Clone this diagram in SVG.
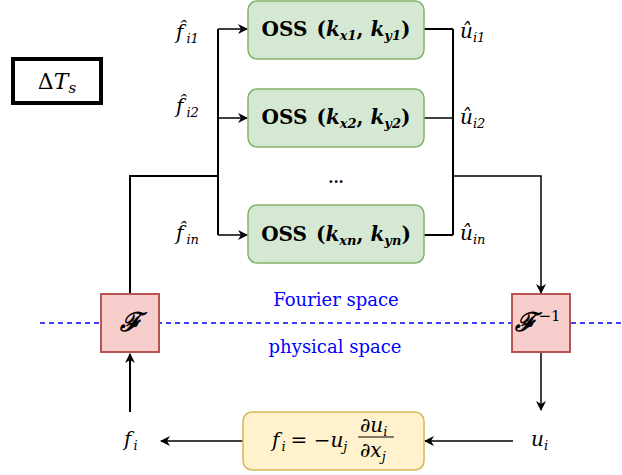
<svg xmlns="http://www.w3.org/2000/svg" width="622" height="475" viewBox="0 0 622 475">
<style>
.m{font-family:'DejaVu Serif','Liberation Serif',serif;font-style:italic;fill:#000}
.r{font-family:'DejaVu Serif','Liberation Serif',serif;fill:#000}
.oss{font-family:'DejaVu Serif','Liberation Serif',serif;font-weight:bold;font-size:20px;fill:#000}
.bi{font-style:italic}
.g{fill:#d5e8d4;stroke:#82b366;stroke-width:1.5}
.red{fill:#f8cecc;stroke:#b85450;stroke-width:2}
.y{fill:#fff2cc;stroke:#d6b656;stroke-width:1.5}
.ln{fill:none;stroke:#000;stroke-width:2}
.ln1{fill:none;stroke:#000;stroke-width:1.5}
.blue{font-family:'DejaVu Serif','Liberation Serif',serif;font-size:18px;fill:#0000ff}
</style>
<defs>
<marker id="ah" markerWidth="10" markerHeight="10" refX="9" refY="5" orient="auto" markerUnits="userSpaceOnUse">
<path d="M0,0 L10,5 L0,10 L3,5 z" fill="#000"/>
</marker>
</defs>
<rect width="622" height="475" fill="#fff"/>

<g id="dT">
<rect x="13" y="59" width="88" height="44" fill="#fff" stroke="#000" stroke-width="4"/>
<text class="m" x="57" y="89" font-size="22" text-anchor="middle"><tspan font-style="normal">Δ</tspan>T<tspan font-size="15" dy="4">s</tspan></text>
</g>

<line x1="40" y1="323" x2="622" y2="323" stroke="#0000ff" stroke-width="1.5" stroke-dasharray="5,4"/>
<text class="blue" x="336" y="306" text-anchor="middle">Fourier space</text>
<text class="blue" x="335" y="353" text-anchor="middle">physical space</text>

<g id="connectors">
<polyline class="ln" points="130,293 130,176 218,176"/>
<line class="ln" x1="218" y1="29" x2="218" y2="235"/>
<line class="ln1" x1="218" y1="29" x2="247" y2="29" marker-end="url(#ah)"/>
<line class="ln1" x1="218" y1="118" x2="247" y2="118" marker-end="url(#ah)"/>
<line class="ln1" x1="218" y1="235" x2="247" y2="235" marker-end="url(#ah)"/>
<line class="ln" x1="424" y1="29" x2="453" y2="29"/>
<line class="ln1" x1="424" y1="118" x2="453" y2="118"/>
<line class="ln" x1="424" y1="235" x2="453" y2="235"/>
<line class="ln" x1="453" y1="29" x2="453" y2="235"/>
<polyline class="ln1" points="453,176 541,176 541,293" marker-end="url(#ah)"/>
<line class="ln1" x1="541" y1="353" x2="541" y2="410" marker-end="url(#ah)"/>
<line class="ln1" x1="513" y1="441" x2="425" y2="441" marker-end="url(#ah)"/>
<line class="ln1" x1="243" y1="441" x2="161" y2="441" marker-end="url(#ah)"/>
<line class="ln" x1="130" y1="412" x2="130" y2="354" marker-end="url(#ah)"/>
</g>

<g id="oss1">
<rect class="g" x="248" y="1" width="176" height="58" rx="9"/>
<text class="oss" x="336" y="36" text-anchor="middle">OSS<tspan dx="9">(</tspan><tspan class="bi">k</tspan><tspan class="bi" font-size="13" dy="4">x1</tspan><tspan dy="-4">, </tspan><tspan class="bi">k</tspan><tspan class="bi" font-size="13" dy="4">y1</tspan><tspan dy="-4">)</tspan></text>
</g>
<g id="oss2">
<rect class="g" x="248" y="89" width="176" height="58" rx="9"/>
<text class="oss" x="336" y="124" text-anchor="middle">OSS<tspan dx="9">(</tspan><tspan class="bi">k</tspan><tspan class="bi" font-size="13" dy="4">x2</tspan><tspan dy="-4">, </tspan><tspan class="bi">k</tspan><tspan class="bi" font-size="13" dy="4">y2</tspan><tspan dy="-4">)</tspan></text>
</g>
<g id="dots">
<text class="r" x="336" y="183" font-size="15" text-anchor="middle" font-weight="bold">...</text>
</g>
<g id="ossn">
<rect class="g" x="248" y="205" width="176" height="58" rx="9"/>
<text class="oss" x="336" y="241" text-anchor="middle">OSS<tspan dx="9">(</tspan><tspan class="bi">k</tspan><tspan class="bi" font-size="13" dy="4">xn</tspan><tspan dy="-4">, </tspan><tspan class="bi">k</tspan><tspan class="bi" font-size="13" dy="4">yn</tspan><tspan dy="-4">)</tspan></text>
</g>

<g id="labels-f">
<text class="m" x="176" y="39" font-size="20">f̂<tspan font-size="13" dx="3" dy="4">i1</tspan></text>
<text class="m" x="176" y="113" font-size="20">f̂<tspan font-size="13" dx="3" dy="4">i2</tspan></text>
<text class="m" x="176" y="240" font-size="20">f̂<tspan font-size="13" dx="3" dy="4">in</tspan></text>
</g>
<g id="labels-u">
<text class="m" x="460" y="38" font-size="20">û<tspan font-size="13" dy="4">i1</tspan></text>
<text class="m" x="460" y="124" font-size="20">û<tspan font-size="13" dy="4">i2</tspan></text>
<text class="m" x="460" y="240" font-size="20">û<tspan font-size="13" dy="4">in</tspan></text>
</g>

<g id="F">
<rect class="red" x="101" y="294" width="58" height="58"/>
<text class="m" x="130" y="331" font-size="26" font-weight="bold" text-anchor="middle">ℱ</text>
</g>
<g id="Finv">
<rect class="red" x="512" y="294" width="58" height="58"/>
<text class="m" x="538" y="331" font-size="26" font-weight="bold" text-anchor="middle">ℱ<tspan font-size="15" font-weight="normal" font-style="normal" dx="2" dy="-10">−1</tspan></text>
</g>

<g id="fi">
<text class="m" x="124" y="446" font-size="20">f<tspan font-size="13" dx="2" dy="4">i</tspan></text>
</g>
<g id="ui">
<text class="m" x="531" y="446" font-size="20">u<tspan font-size="13" dy="4">i</tspan></text>
</g>

<g id="eq">
<rect class="y" x="243" y="412" width="181" height="58" rx="9"/>
<text class="m" x="272" y="447" font-size="20">f<tspan font-size="13" dx="2" dy="4">i</tspan><tspan font-style="normal" dx="5" dy="-4">= −</tspan><tspan>u</tspan><tspan font-size="13" dy="4">j</tspan></text>
<text class="m" x="360" y="432" font-size="20"><tspan font-style="normal">∂</tspan>u<tspan font-size="13" dy="4">i</tspan></text>
<line x1="358" y1="437" x2="394" y2="437" stroke="#000" stroke-width="1"/>
<text class="m" x="360" y="457" font-size="20"><tspan font-style="normal">∂</tspan>x<tspan font-size="13" dy="4">j</tspan></text>
</g>
</svg>
